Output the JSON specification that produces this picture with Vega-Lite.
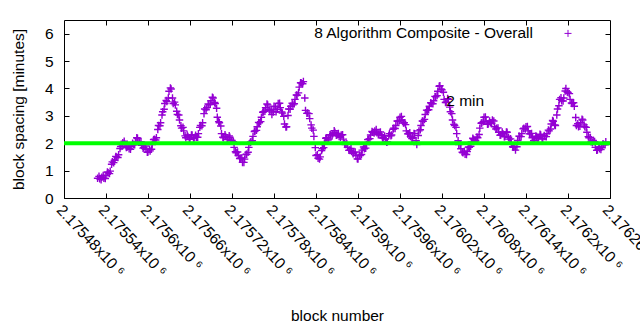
{
  "$schema": "https://vega.github.io/schema/vega-lite/v6.json",
  "width": 546,
  "height": 178,
  "autosize": "none",
  "padding": {"left": 64, "top": 20, "right": 30, "bottom": 132},
  "background": "white",
  "config": {
    "view": {"stroke": "black", "strokeWidth": 1},
    "font": "Liberation Sans",
    "axis": {
      "domain": false,
      "grid": false,
      "tickColor": "black",
      "tickSize": -5,
      "labelColor": "black",
      "labelFont": "Liberation Sans",
      "labelFontSize": 15.5,
      "titleFont": "Liberation Sans",
      "titleFontSize": 15.5,
      "titleFontWeight": "normal",
      "titleColor": "black"
    }
  },
  "resolve": {"axis": {"x": "independent", "y": "independent"}},
  "layer": [
    {
      "data": {"values": [
        {"block":2175528,"spacing":0.72},{"block":2175531,"spacing":0.70},{"block":2175534,"spacing":0.76},{"block":2175537,"spacing":0.72},{"block":2175540,"spacing":0.82},{"block":2175543,"spacing":0.92},{"block":2175546,"spacing":0.98},{"block":2175549,"spacing":1.32},{"block":2175552,"spacing":1.38},{"block":2175555,"spacing":1.50},{"block":2175558,"spacing":1.58},{"block":2175561,"spacing":1.88},{"block":2175564,"spacing":2.02},{"block":2175567,"spacing":1.95},{"block":2175570,"spacing":1.85},{"block":2175573,"spacing":1.80},{"block":2175576,"spacing":1.88},{"block":2175579,"spacing":1.95},{"block":2175582,"spacing":2.05},{"block":2175585,"spacing":2.18},{"block":2175588,"spacing":2.05},{"block":2175591,"spacing":1.92},{"block":2175594,"spacing":1.85},{"block":2175597,"spacing":1.78},{"block":2175600,"spacing":1.68},{"block":2175603,"spacing":1.72},{"block":2175606,"spacing":1.95},{"block":2175609,"spacing":2.15},{"block":2175612,"spacing":2.20},{"block":2175615,"spacing":2.65},{"block":2175618,"spacing":2.75},{"block":2175621,"spacing":3.15},{"block":2175624,"spacing":3.45},{"block":2175627,"spacing":3.52},{"block":2175630,"spacing":3.90},{"block":2175633,"spacing":3.98},{"block":2175636,"spacing":3.45},{"block":2175639,"spacing":3.40},{"block":2175642,"spacing":3.05},{"block":2175645,"spacing":2.85},{"block":2175648,"spacing":2.55},{"block":2175651,"spacing":2.45},{"block":2175654,"spacing":2.20},{"block":2175657,"spacing":2.25},{"block":2175660,"spacing":2.15},{"block":2175663,"spacing":2.30},{"block":2175666,"spacing":2.20},{"block":2175669,"spacing":2.22},{"block":2175672,"spacing":2.35},{"block":2175675,"spacing":2.65},{"block":2175678,"spacing":2.75},{"block":2175681,"spacing":3.25},{"block":2175684,"spacing":3.30},{"block":2175687,"spacing":3.40},{"block":2175690,"spacing":3.55},{"block":2175693,"spacing":3.65},{"block":2175696,"spacing":3.45},{"block":2175699,"spacing":2.95},{"block":2175702,"spacing":2.75},{"block":2175705,"spacing":2.35},{"block":2175708,"spacing":2.20},{"block":2175711,"spacing":2.25},{"block":2175714,"spacing":2.15},{"block":2175717,"spacing":2.22},{"block":2175720,"spacing":2.10},{"block":2175723,"spacing":1.85},{"block":2175726,"spacing":1.65},{"block":2175729,"spacing":1.55},{"block":2175732,"spacing":1.45},{"block":2175735,"spacing":1.30},{"block":2175738,"spacing":1.42},{"block":2175741,"spacing":1.60},{"block":2175744,"spacing":1.85},{"block":2175747,"spacing":2.05},{"block":2175750,"spacing":2.25},{"block":2175753,"spacing":2.45},{"block":2175756,"spacing":2.60},{"block":2175759,"spacing":2.75},{"block":2175762,"spacing":2.95},{"block":2175765,"spacing":3.15},{"block":2175768,"spacing":3.30},{"block":2175771,"spacing":3.40},{"block":2175774,"spacing":3.20},{"block":2175777,"spacing":3.05},{"block":2175780,"spacing":3.35},{"block":2175783,"spacing":3.15},{"block":2175786,"spacing":3.45},{"block":2175789,"spacing":3.30},{"block":2175792,"spacing":3.10},{"block":2175795,"spacing":2.70},{"block":2175798,"spacing":2.60},{"block":2175801,"spacing":3.25},{"block":2175804,"spacing":3.35},{"block":2175807,"spacing":3.40},{"block":2175810,"spacing":3.60},{"block":2175813,"spacing":3.75},{"block":2175816,"spacing":4.05},{"block":2175819,"spacing":4.20},{"block":2175822,"spacing":4.25},{"block":2175825,"spacing":3.20},{"block":2175828,"spacing":3.10},{"block":2175831,"spacing":2.90},{"block":2175834,"spacing":2.55},{"block":2175837,"spacing":2.25},{"block":2175840,"spacing":1.55},{"block":2175843,"spacing":1.45},{"block":2175846,"spacing":1.50},{"block":2175849,"spacing":1.80},{"block":2175852,"spacing":2.00},{"block":2175855,"spacing":2.20},{"block":2175858,"spacing":2.15},{"block":2175861,"spacing":2.30},{"block":2175864,"spacing":2.35},{"block":2175867,"spacing":2.40},{"block":2175870,"spacing":2.30},{"block":2175873,"spacing":2.25},{"block":2175876,"spacing":2.30},{"block":2175879,"spacing":2.15},{"block":2175882,"spacing":1.95},{"block":2175885,"spacing":1.85},{"block":2175888,"spacing":1.75},{"block":2175891,"spacing":1.70},{"block":2175894,"spacing":1.65},{"block":2175897,"spacing":1.55},{"block":2175900,"spacing":1.42},{"block":2175903,"spacing":1.55},{"block":2175906,"spacing":1.75},{"block":2175909,"spacing":1.80},{"block":2175912,"spacing":1.95},{"block":2175915,"spacing":2.15},{"block":2175918,"spacing":2.30},{"block":2175921,"spacing":2.40},{"block":2175924,"spacing":2.45},{"block":2175927,"spacing":2.38},{"block":2175930,"spacing":2.35},{"block":2175933,"spacing":2.30},{"block":2175936,"spacing":2.20},{"block":2175939,"spacing":2.15},{"block":2175942,"spacing":2.05},{"block":2175945,"spacing":2.35},{"block":2175948,"spacing":2.30},{"block":2175951,"spacing":2.55},{"block":2175954,"spacing":2.65},{"block":2175957,"spacing":2.80},{"block":2175960,"spacing":2.95},{"block":2175963,"spacing":2.85},{"block":2175966,"spacing":2.75},{"block":2175969,"spacing":2.45},{"block":2175972,"spacing":2.35},{"block":2175975,"spacing":2.25},{"block":2175978,"spacing":2.20},{"block":2175981,"spacing":2.35},{"block":2175984,"spacing":1.95},{"block":2175987,"spacing":2.45},{"block":2175990,"spacing":2.65},{"block":2175993,"spacing":2.80},{"block":2175996,"spacing":3.05},{"block":2175999,"spacing":3.20},{"block":2176002,"spacing":3.35},{"block":2176005,"spacing":3.45},{"block":2176008,"spacing":3.55},{"block":2176011,"spacing":3.70},{"block":2176014,"spacing":3.90},{"block":2176017,"spacing":4.10},{"block":2176020,"spacing":3.95},{"block":2176023,"spacing":3.60},{"block":2176026,"spacing":3.50},{"block":2176029,"spacing":3.60},{"block":2176032,"spacing":3.15},{"block":2176035,"spacing":2.85},{"block":2176038,"spacing":2.65},{"block":2176041,"spacing":2.35},{"block":2176044,"spacing":1.95},{"block":2176047,"spacing":1.80},{"block":2176050,"spacing":1.65},{"block":2176053,"spacing":1.60},{"block":2176056,"spacing":1.70},{"block":2176059,"spacing":1.85},{"block":2176062,"spacing":2.05},{"block":2176065,"spacing":2.15},{"block":2176068,"spacing":2.10},{"block":2176071,"spacing":2.20},{"block":2176074,"spacing":2.55},{"block":2176077,"spacing":2.75},{"block":2176080,"spacing":2.95},{"block":2176083,"spacing":2.80},{"block":2176086,"spacing":2.70},{"block":2176089,"spacing":2.75},{"block":2176092,"spacing":2.85},{"block":2176095,"spacing":2.60},{"block":2176098,"spacing":2.55},{"block":2176101,"spacing":2.40},{"block":2176104,"spacing":2.30},{"block":2176107,"spacing":2.35},{"block":2176110,"spacing":2.25},{"block":2176113,"spacing":2.40},{"block":2176116,"spacing":2.15},{"block":2176119,"spacing":2.00},{"block":2176122,"spacing":1.85},{"block":2176125,"spacing":1.75},{"block":2176128,"spacing":2.10},{"block":2176131,"spacing":2.25},{"block":2176134,"spacing":2.35},{"block":2176137,"spacing":2.55},{"block":2176140,"spacing":2.60},{"block":2176143,"spacing":2.45},{"block":2176146,"spacing":2.35},{"block":2176149,"spacing":2.20},{"block":2176152,"spacing":2.10},{"block":2176155,"spacing":2.25},{"block":2176158,"spacing":2.20},{"block":2176161,"spacing":2.30},{"block":2176164,"spacing":2.15},{"block":2176167,"spacing":2.25},{"block":2176170,"spacing":2.35},{"block":2176173,"spacing":2.45},{"block":2176176,"spacing":2.70},{"block":2176179,"spacing":2.80},{"block":2176182,"spacing":2.65},{"block":2176185,"spacing":3.25},{"block":2176188,"spacing":3.60},{"block":2176191,"spacing":3.55},{"block":2176194,"spacing":3.65},{"block":2176197,"spacing":4.00},{"block":2176200,"spacing":3.85},{"block":2176203,"spacing":3.60},{"block":2176206,"spacing":3.45},{"block":2176209,"spacing":3.35},{"block":2176212,"spacing":2.65},{"block":2176215,"spacing":2.60},{"block":2176218,"spacing":2.75},{"block":2176221,"spacing":2.85},{"block":2176224,"spacing":2.60},{"block":2176227,"spacing":2.40},{"block":2176230,"spacing":2.20},{"block":2176233,"spacing":2.05},{"block":2176236,"spacing":2.10},{"block":2176239,"spacing":1.85},{"block":2176242,"spacing":1.75},{"block":2176245,"spacing":1.80},{"block":2176248,"spacing":1.85},{"block":2176251,"spacing":1.95},{"block":2176254,"spacing":2.05},
        {"block":2175530,"spacing":0.79},{"block":2175533,"spacing":0.67},{"block":2175536,"spacing":0.82},{"block":2175539,"spacing":0.71},{"block":2175542,"spacing":0.95},{"block":2175545,"spacing":0.89},{"block":2175548,"spacing":1.23},{"block":2175551,"spacing":1.29},{"block":2175554,"spacing":1.52},{"block":2175557,"spacing":1.48},{"block":2175560,"spacing":1.81},{"block":2175563,"spacing":1.89},{"block":2175566,"spacing":2.07},{"block":2175569,"spacing":1.84},{"block":2175572,"spacing":1.90},{"block":2175575,"spacing":1.78},{"block":2175578,"spacing":2.00},{"block":2175581,"spacing":1.94},{"block":2175584,"spacing":2.20},{"block":2175587,"spacing":2.06},{"block":2175590,"spacing":2.06},{"block":2175593,"spacing":1.82},{"block":2175596,"spacing":1.90},{"block":2175599,"spacing":1.67},{"block":2175602,"spacing":1.78},{"block":2175605,"spacing":1.78},{"block":2175608,"spacing":2.13},{"block":2175611,"spacing":2.12},{"block":2175614,"spacing":2.50},{"block":2175617,"spacing":2.64},{"block":2175620,"spacing":3.03},{"block":2175623,"spacing":3.24},{"block":2175626,"spacing":3.56},{"block":2175629,"spacing":3.65},{"block":2175632,"spacing":4.02},{"block":2175635,"spacing":3.65},{"block":2175638,"spacing":3.50},{"block":2175641,"spacing":3.17},{"block":2175644,"spacing":3.03},{"block":2175647,"spacing":2.64},{"block":2175650,"spacing":2.58},{"block":2175653,"spacing":2.27},{"block":2175656,"spacing":2.30},{"block":2175659,"spacing":2.14},{"block":2175662,"spacing":2.30},{"block":2175665,"spacing":2.19},{"block":2175668,"spacing":2.29},{"block":2175671,"spacing":2.22},{"block":2175674,"spacing":2.58},{"block":2175677,"spacing":2.64},{"block":2175680,"spacing":3.08},{"block":2175683,"spacing":3.22},{"block":2175686,"spacing":3.43},{"block":2175689,"spacing":3.42},{"block":2175692,"spacing":3.68},{"block":2175695,"spacing":3.49},{"block":2175698,"spacing":3.28},{"block":2175701,"spacing":2.79},{"block":2175704,"spacing":2.63},{"block":2175707,"spacing":2.22},{"block":2175710,"spacing":2.31},{"block":2175713,"spacing":2.14},{"block":2175716,"spacing":2.27},{"block":2175719,"spacing":2.10},{"block":2175722,"spacing":2.06},{"block":2175725,"spacing":1.69},{"block":2175728,"spacing":1.68},{"block":2175731,"spacing":1.44},{"block":2175734,"spacing":1.46},{"block":2175737,"spacing":1.30},{"block":2175740,"spacing":1.59},{"block":2175743,"spacing":1.67},{"block":2175746,"spacing":2.03},{"block":2175749,"spacing":2.09},{"block":2175752,"spacing":2.43},{"block":2175755,"spacing":2.47},{"block":2175758,"spacing":2.76},{"block":2175761,"spacing":2.79},{"block":2175764,"spacing":3.13},{"block":2175767,"spacing":3.17},{"block":2175770,"spacing":3.43},{"block":2175773,"spacing":3.24},{"block":2175776,"spacing":3.21},{"block":2175779,"spacing":3.14},{"block":2175782,"spacing":3.33},{"block":2175785,"spacing":3.24},{"block":2175788,"spacing":3.46},{"block":2175791,"spacing":3.14},{"block":2175794,"spacing":2.98},{"block":2175797,"spacing":2.59},{"block":2175800,"spacing":3.01},{"block":2175803,"spacing":3.24},{"block":2175806,"spacing":3.46},{"block":2175809,"spacing":3.44},{"block":2175812,"spacing":3.76},{"block":2175815,"spacing":3.84},{"block":2175818,"spacing":4.21},{"block":2175821,"spacing":4.17},{"block":2175824,"spacing":3.65},{"block":2175827,"spacing":3.09},{"block":2175830,"spacing":3.08},{"block":2175833,"spacing":2.67},{"block":2175836,"spacing":2.48},{"block":2175839,"spacing":1.84},{"block":2175842,"spacing":1.58},{"block":2175845,"spacing":1.42},{"block":2175848,"spacing":1.73},{"block":2175851,"spacing":1.84},{"block":2175854,"spacing":2.18},{"block":2175857,"spacing":2.12},{"block":2175860,"spacing":2.31},{"block":2175863,"spacing":2.27},{"block":2175866,"spacing":2.46},{"block":2175869,"spacing":2.29},{"block":2175872,"spacing":2.36},{"block":2175875,"spacing":2.22},{"block":2175878,"spacing":2.31},{"block":2175881,"spacing":1.99},{"block":2175884,"spacing":1.98},{"block":2175887,"spacing":1.74},{"block":2175890,"spacing":1.81},{"block":2175893,"spacing":1.62},{"block":2175896,"spacing":1.68},{"block":2175899,"spacing":1.43},{"block":2175902,"spacing":1.57},{"block":2175905,"spacing":1.59},{"block":2175908,"spacing":1.86},{"block":2175911,"spacing":1.82},{"block":2175914,"spacing":2.13},{"block":2175917,"spacing":2.17},{"block":2175920,"spacing":2.43},{"block":2175923,"spacing":2.37},{"block":2175926,"spacing":2.50},{"block":2175929,"spacing":2.31},{"block":2175932,"spacing":2.41},{"block":2175935,"spacing":2.19},{"block":2175938,"spacing":2.26},{"block":2175941,"spacing":2.04},{"block":2175944,"spacing":2.28},{"block":2175947,"spacing":2.27},{"block":2175950,"spacing":2.51},{"block":2175953,"spacing":2.54},{"block":2175956,"spacing":2.81},{"block":2175959,"spacing":2.82},{"block":2175962,"spacing":2.98},{"block":2175965,"spacing":2.74},{"block":2175968,"spacing":2.68},{"block":2175971,"spacing":2.34},{"block":2175974,"spacing":2.38},{"block":2175977,"spacing":2.17},{"block":2175980,"spacing":2.36},{"block":2175983,"spacing":2.09},{"block":2175986,"spacing":2.28},{"block":2175989,"spacing":2.49},{"block":2175992,"spacing":2.81},{"block":2175995,"spacing":2.87},{"block":2175998,"spacing":3.21},{"block":2176001,"spacing":3.22},{"block":2176004,"spacing":3.48},{"block":2176007,"spacing":3.44},{"block":2176010,"spacing":3.71},{"block":2176013,"spacing":3.74},{"block":2176016,"spacing":4.08},{"block":2176019,"spacing":3.97},{"block":2176022,"spacing":3.86},{"block":2176025,"spacing":3.49},{"block":2176028,"spacing":3.63},{"block":2176031,"spacing":3.32},{"block":2176034,"spacing":3.08},{"block":2176037,"spacing":2.69},{"block":2176040,"spacing":2.58},{"block":2176043,"spacing":2.09},{"block":2176046,"spacing":1.96},{"block":2176049,"spacing":1.67},{"block":2176052,"spacing":1.71},{"block":2176055,"spacing":1.59},{"block":2176058,"spacing":1.86},{"block":2176061,"spacing":1.89},{"block":2176064,"spacing":2.18},{"block":2176067,"spacing":2.07},{"block":2176070,"spacing":2.23},{"block":2176073,"spacing":2.32},{"block":2176076,"spacing":2.73},{"block":2176079,"spacing":2.79},{"block":2176082,"spacing":2.96},{"block":2176085,"spacing":2.69},{"block":2176088,"spacing":2.81},{"block":2176091,"spacing":2.74},{"block":2176094,"spacing":2.81},{"block":2176097,"spacing":2.52},{"block":2176100,"spacing":2.56},{"block":2176103,"spacing":2.29},{"block":2176106,"spacing":2.41},{"block":2176109,"spacing":2.24},{"block":2176112,"spacing":2.41},{"block":2176115,"spacing":2.22},{"block":2176118,"spacing":2.16},{"block":2176121,"spacing":1.87},{"block":2176124,"spacing":1.88},{"block":2176127,"spacing":1.87},{"block":2176130,"spacing":2.26},{"block":2176133,"spacing":2.24},{"block":2176136,"spacing":2.53},{"block":2176139,"spacing":2.52},{"block":2176142,"spacing":2.61},{"block":2176145,"spacing":2.34},{"block":2176148,"spacing":2.36},{"block":2176151,"spacing":2.09},{"block":2176154,"spacing":2.26},{"block":2176157,"spacing":2.17},{"block":2176160,"spacing":2.33},{"block":2176163,"spacing":2.17},{"block":2176166,"spacing":2.28},{"block":2176169,"spacing":2.24},{"block":2176172,"spacing":2.48},{"block":2176175,"spacing":2.52},{"block":2176178,"spacing":2.83},{"block":2176181,"spacing":2.67},{"block":2176184,"spacing":3.03},{"block":2176187,"spacing":3.37},{"block":2176190,"spacing":3.66},{"block":2176193,"spacing":3.54},{"block":2176196,"spacing":3.91},{"block":2176199,"spacing":3.87},{"block":2176202,"spacing":3.81},{"block":2176205,"spacing":3.47},{"block":2176208,"spacing":3.48},{"block":2176211,"spacing":2.94},{"block":2176214,"spacing":2.71},{"block":2176217,"spacing":2.62},{"block":2176220,"spacing":2.88},{"block":2176223,"spacing":2.67},{"block":2176226,"spacing":2.58},{"block":2176229,"spacing":2.24},{"block":2176232,"spacing":2.21},{"block":2176235,"spacing":2.02},{"block":2176238,"spacing":2.06},{"block":2176241,"spacing":1.74},{"block":2176244,"spacing":1.86},{"block":2176247,"spacing":1.77},{"block":2176250,"spacing":1.98},{"block":2176253,"spacing":1.94}
      ]},
      "mark": {"type": "point", "shape": "M-1,0L1,0M0,-1L0,1", "filled": false, "size": 56, "strokeWidth": 1.4, "color": "#9400d3", "opacity": 1},
      "encoding": {
        "x": {
          "field": "block", "type": "quantitative",
          "scale": {"domain": [2175480, 2176260], "nice": false, "zero": false},
          "axis": {
            "orient": "bottom",
            "title": "block number",
            "values": [2175480, 2175540, 2175600, 2175660, 2175720, 2175780, 2175840, 2175900, 2175960, 2176020, 2176080, 2176140, 2176200, 2176260],
            "labelExpr": "format(datum.value / 1000000, '.6~f') + 'x10 ⁶'",
            "labelAngle": 47,
            "labelAlign": "left",
            "labelBaseline": "top",
            "labelPadding": 9,
            "labelOverlap": false,
            "labelFlush": false,
            "titleY": 117,
            "titleBaseline": "middle"
          }
        },
        "y": {
          "field": "spacing", "type": "quantitative",
          "scale": {"domain": [0, 6.5], "nice": false},
          "axis": {
            "orient": "left",
            "title": "block spacing [minutes]",
            "values": [0, 1, 2, 3, 4, 5, 6],
            "labelPadding": 16,
            "titleX": -46,
            "titleY": 89,
            "titleAngle": -90,
            "titleAlign": "center",
            "titleBaseline": "middle"
          }
        }
      }
    },
    {
      "data": {"values": [{"level": 2}]},
      "mark": {"type": "rule", "color": "#00ff00", "strokeWidth": 4},
      "encoding": {
        "y": {
          "field": "level", "type": "quantitative",
          "axis": {"orient": "right", "title": null, "labels": false, "values": [0, 1, 2, 3, 4, 5, 6]}
        }
      }
    },
    {
      "data": {"values": [{"block": 2176150, "spacing": 6.01, "label": "8 Algorithm Composite - Overall"}]},
      "mark": {"type": "text", "align": "right", "baseline": "middle", "fontSize": 15.5, "font": "Liberation Sans", "color": "black"},
      "encoding": {
        "x": {
          "field": "block", "type": "quantitative",
          "axis": {"orient": "top", "title": null, "labels": false, "values": [2175540, 2175600, 2175660, 2175720, 2175780, 2175840, 2175900, 2175960, 2176020, 2176080, 2176140, 2176200]}
        },
        "y": {"field": "spacing", "type": "quantitative", "axis": null},
        "text": {"field": "label"}
      }
    },
    {
      "data": {"values": [{"block": 2176200, "spacing": 6.01}]},
      "mark": {"type": "point", "shape": "M-1,0L1,0M0,-1L0,1", "filled": false, "size": 49, "strokeWidth": 1, "color": "#9400d3", "opacity": 1},
      "encoding": {
        "x": {"field": "block", "type": "quantitative", "axis": null},
        "y": {"field": "spacing", "type": "quantitative", "axis": null}
      }
    },
    {
      "data": {"values": [{"block": 2176026, "spacing": 3.53, "label": "2 min"}]},
      "mark": {"type": "text", "align": "left", "baseline": "middle", "fontSize": 15.5, "font": "Liberation Sans", "color": "black"},
      "encoding": {
        "x": {"field": "block", "type": "quantitative", "axis": null},
        "y": {"field": "spacing", "type": "quantitative", "axis": null},
        "text": {"field": "label"}
      }
    }
  ]
}
